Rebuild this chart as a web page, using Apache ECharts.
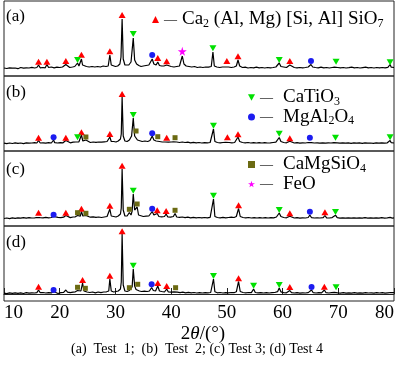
<!DOCTYPE html>
<html><head><meta charset="utf-8">
<script src="https://cdn.jsdelivr.net/npm/echarts@6/dist/echarts.min.js"></script>
<style>html,body{margin:0;padding:0;background:#fff}#c{width:400px;height:365px}</style>
</head><body><div id="c"></div><script>
const xTicks = [10, 20, 30, 40, 50, 60, 70, 80];
const panelLabels = ['(a)', '(b)', '(c)', '(d)'];
const phaseNames = ['Ca2 (Al, Mg) [Si, Al] SiO7', 'CaTiO3', 'MgAl2O4', 'CaMgSiO4', 'FeO'];
const xTitle = '2θ/(°)';
const caption = '(a)  Test  1;  (b)  Test  2; (c) Test 3; (d) Test 4';

// XRD profiles [2θ, intensity]
const profileA = [[10,1],[10.5,0.5],[11,1.2],[11.5,0.8],[12,1],[12.5,0.3],[13,1.5],[13.5,0.8],[14,1.2],[14.5,1],[15,1.6],[15.5,1],[15.9,1.5],[16.2,4],[16.5,1.2],[17,1.5],[17.4,1.2],[17.7,4.5],[18,1.5],[18.5,2],[19,1.2],[19.5,1.8],[20,1.5],[20.5,2],[20.8,2.5],[21.1,4.5],[21.4,2.5],[21.8,1.5],[22.3,2],[22.7,2.5],[23.0,3],[23.2,6],[23.45,3],[23.7,3.5],[23.9,10],[24.1,4],[24.4,3],[24.8,2.5],[25.3,2],[25.8,2.5],[26.3,2],[26.8,2.5],[27.3,2],[27.8,3],[28.3,2.5],[28.7,3],[29.0,14],[29.25,4],[29.6,3],[30.0,2.5],[30.4,3],[30.8,5],[31.0,12],[31.2,50],[31.4,10],[31.7,4],[32.0,3],[32.4,4],[32.8,7],[33.2,31],[33.45,9],[33.8,5],[34.2,3.5],[34.6,2.5],[35.0,3],[35.5,3.5],[36.0,4],[36.3,6],[36.6,10],[36.9,5],[37.3,4],[37.6,7],[37.9,3.5],[38.3,3],[38.7,3],[39.0,2.5],[39.2,4],[39.5,2],[40.0,2.5],[40.5,2],[41.0,2.5],[41.5,3],[41.8,5],[42.0,13],[42.3,5],[42.7,3],[43.2,2.5],[43.7,2],[44.2,2.5],[44.7,1.5],[45.2,2],[45.7,1.5],[46.2,2],[46.7,1.8],[47.2,2.5],[47.5,17],[47.75,3],[48.2,2],[48.7,1.5],[49.2,2],[49.7,2],[50.0,4],[50.3,2],[50.8,1.5],[51.3,2],[51.7,3],[52.0,9],[52.3,3],[52.8,1.5],[53.3,1.8],[53.8,1],[54.3,1.5],[54.8,1.2],[55.3,1.8],[55.8,1.2],[56.3,1.5],[56.8,1],[57.3,1.5],[57.8,1.2],[58.3,1.5],[58.8,2],[59.1,2.5],[59.4,6],[59.7,2.5],[60.2,2],[60.7,1.5],[61.0,2],[61.3,4],[61.6,2],[62.1,1.5],[62.6,1.2],[63.1,1.5],[63.6,1.2],[64.1,1.5],[64.6,2],[64.85,2.5],[65.1,4.5],[65.4,2],[65.9,1.5],[66.4,1.2],[66.9,1.8],[67.4,1.2],[67.9,1.5],[68.4,1],[68.9,1.5],[69.3,1.8],[69.6,3.5],[69.9,1.5],[70.4,1.2],[70.9,1.5],[71.4,1],[71.9,1.3],[72.4,1.8],[72.9,1.2],[73.4,1.5],[73.9,1],[74.4,1.4],[74.9,1.8],[75.4,1.2],[75.9,1.5],[76.4,1],[76.9,1.5],[77.4,1.2],[77.9,1.5],[78.4,1.2],[78.9,1.6],[79.1,2],[79.3,4.5],[79.5,1.8],[80,1.5]];
const profileB = [[10,0.8],[10.5,0.3],[11,1],[11.5,0.5],[12,1.2],[12.5,0.6],[13,1],[13.5,0.4],[14,1.2],[14.5,0.8],[15,1],[15.5,1.3],[15.9,1],[16.2,3.5],[16.5,1],[17,1.2],[17.5,0.8],[18,1.3],[18.5,1],[18.7,1.5],[18.9,4],[19.1,1.3],[19.6,1],[20.1,1.4],[20.6,1.2],[20.9,1.6],[21.1,3.5],[21.4,1.5],[21.9,1.2],[22.4,1.8],[22.9,2],[23.2,4],[23.45,2.2],[23.7,2.5],[23.9,9],[24.15,3],[24.45,2.5],[24.7,4],[25,2],[25.5,1.5],[26,2],[26.5,1.6],[27,2],[27.5,1.8],[28,2.2],[28.5,2.5],[28.8,3],[29.0,7],[29.25,2.5],[29.7,2.5],[30.1,2],[30.5,3],[30.9,5],[31.05,10],[31.2,47],[31.4,8],[31.7,3],[32.1,2.5],[32.5,4],[32.9,8],[33.2,26],[33.45,8],[33.7,10],[33.95,4],[34.3,3],[34.8,2.5],[35.3,3],[35.8,2.5],[36.2,3.5],[36.6,8],[36.9,4],[37.3,3],[37.6,4.5],[37.9,2.5],[38.4,2],[38.9,2],[39.2,3.5],[39.5,1.8],[40.0,2],[40.4,2.2],[40.7,3.5],[41.0,2],[41.5,1.5],[42,2],[42.5,1.5],[43,1.8],[43.5,1.2],[44,1.6],[44.5,1.2],[45,1.5],[45.5,1],[46,1.4],[46.5,1.2],[47,1.5],[47.3,2],[47.6,15],[47.85,2.5],[48.3,1.5],[48.8,1.2],[49.3,1.5],[49.8,1.6],[50.1,3.5],[50.4,1.5],[50.9,1.2],[51.4,1.5],[51.7,2.5],[52.0,7],[52.3,2.5],[52.8,1.5],[53.3,1.2],[53.8,1.5],[54.3,1],[54.8,1.4],[55.3,1],[55.8,1.3],[56.3,1],[56.8,1.3],[57.3,1],[57.8,1.2],[58.3,1.5],[58.8,1.8],[59.1,2.5],[59.4,6.5],[59.7,2.5],[60.2,1.5],[60.7,1.2],[61.0,1.3],[61.3,2.8],[61.6,1.2],[62.1,1],[62.6,1.3],[63.1,0.8],[63.6,1.2],[64.1,1],[64.6,1.5],[64.9,3.2],[65.2,1.3],[65.7,1],[66.2,1.2],[66.7,0.8],[67.2,1.2],[67.7,0.8],[68.2,1.2],[68.7,1],[69.2,1.3],[69.5,3],[69.8,1.2],[70.3,0.8],[70.8,1.2],[71.3,0.8],[71.8,1.1],[72.3,0.7],[72.8,1.2],[73.3,0.8],[73.8,1.1],[74.3,0.7],[74.8,1.2],[75.3,0.8],[75.8,1],[76.3,0.7],[76.8,1.1],[77.3,0.8],[77.8,1.2],[78.3,0.8],[78.8,1.2],[79.1,1.5],[79.3,3.5],[79.5,1.3],[80,1]];
const profileC = [[10,0.5],[10.5,1],[11,0.4],[11.5,1.1],[12,0.6],[12.5,1.2],[13,0.8],[13.5,1.3],[14,0.9],[14.5,1.4],[15,1],[15.5,1.2],[15.9,1.5],[16.2,3.5],[16.5,1.3],[17,1.2],[17.5,1.6],[18,1.2],[18.5,1.5],[18.9,2.5],[19.2,1.3],[19.7,1.6],[20.2,1.3],[20.7,1.8],[21.1,3.5],[21.4,1.6],[21.9,1.4],[22.4,2],[22.8,2.2],[23.2,3.5],[23.5,2.5],[23.7,2.8],[23.9,7.5],[24.15,3],[24.45,2.5],[24.7,3.5],[25,2],[25.5,1.8],[26,2.2],[26.5,1.6],[27,2],[27.5,1.5],[28,2],[28.5,2.5],[28.8,3],[29.0,10],[29.25,3],[29.7,2.5],[30.1,2],[30.5,3],[30.9,5],[31.05,11],[31.2,50],[31.4,9],[31.7,3],[32.1,3],[32.5,6.5],[32.8,4],[33.0,8],[33.2,25],[33.45,9],[33.7,8],[33.9,12],[34.15,4],[34.5,3],[35,2.5],[35.5,2.8],[36,3],[36.3,4],[36.6,7.5],[36.9,4],[37.2,3],[37.5,5.5],[37.8,2.5],[38.3,2.2],[38.8,2.5],[39.1,5],[39.4,2],[39.9,1.8],[40.4,2.5],[40.7,5.5],[41,2],[41.5,1.6],[42,2],[42.5,1.4],[43,1.8],[43.5,1.2],[44,1.6],[44.5,1.2],[45,1.5],[45.5,1.1],[46,1.5],[46.5,1.2],[47,1.6],[47.3,2.2],[47.6,20],[47.85,2.5],[48.3,1.5],[48.8,1.2],[49.3,1.6],[49.8,1.2],[50.3,1.5],[50.8,1.8],[51.3,1.5],[51.7,2.5],[52.1,10.5],[52.4,2.5],[52.9,1.5],[53.4,1.2],[53.9,1.5],[54.4,1],[54.9,1.4],[55.4,1],[55.9,1.3],[56.4,1],[56.9,1.3],[57.4,1],[57.9,1.4],[58.4,1.2],[58.9,2],[59.1,2.5],[59.4,6],[59.7,2.5],[60.2,1.5],[60.7,1.2],[61.0,1.4],[61.3,2.8],[61.6,1.2],[62.1,1],[62.6,1.3],[63.1,0.8],[63.6,1.2],[64.1,1],[64.6,1.5],[64.9,4],[65.2,1.3],[65.7,1],[66.2,1.2],[66.7,1],[67.3,1.4],[67.6,3.5],[67.9,1.2],[68.4,1],[68.9,1.4],[69.2,1.6],[69.5,3.8],[69.8,1.3],[70.3,0.9],[70.8,1.2],[71.3,0.8],[71.8,1.2],[72.3,0.8],[72.8,1.2],[73.3,0.9],[73.8,1.2],[74.3,0.8],[74.8,1.3],[75.3,0.9],[75.8,1.1],[76.3,0.8],[76.8,1.2],[77.3,0.9],[77.8,1.3],[78.3,0.9],[78.8,1.2],[79.3,1.6],[79.7,0.9],[80,1.2]];
const profileD = [[10,0.8],[10.5,0.4],[11,1.1],[11.5,0.6],[12,1.2],[12.5,0.7],[13,1.1],[13.5,0.5],[14,1.3],[14.5,0.8],[15,1.2],[15.5,1],[15.9,1.4],[16.2,4],[16.5,1.3],[17,1.5],[17.5,1],[18,1.4],[18.5,1.1],[18.9,2.5],[19.2,1.2],[19.7,0.5],[20.2,1.3],[20.7,1.6],[21.1,4],[21.4,1.8],[21.9,1.3],[22.4,1.8],[22.8,2.2],[23.2,3.5],[23.5,2.5],[23.8,3],[24.1,11],[24.35,3],[24.6,2.8],[24.9,2],[25.4,1.5],[25.9,2],[26.4,1.2],[26.9,2],[27.4,1.4],[27.9,2],[28.4,2.2],[28.8,3],[29.0,15],[29.25,3],[29.7,2],[30.1,2.5],[30.5,3],[30.9,5],[31.05,12],[31.2,60],[31.4,9],[31.7,3],[32.1,2.5],[32.5,3.5],[32.8,3],[33.0,7],[33.2,25],[33.45,8],[33.7,4.5],[34.0,6.5],[34.3,3],[34.7,2.5],[35.2,2.8],[35.7,2.5],[36.1,3],[36.5,6.5],[36.8,3.5],[37.2,3],[37.6,8],[37.9,3],[38.3,2.5],[38.8,2],[39.2,5],[39.5,2],[40.0,1.8],[40.5,2.2],[40.8,3.5],[41.1,1.8],[41.6,1.4],[42.1,1.8],[42.6,1.2],[43.1,1.6],[43.6,1.1],[44.1,1.5],[44.6,1],[45.1,1.4],[45.6,1],[46.1,1.4],[46.6,1.1],[47.1,1.5],[47.35,2],[47.6,15],[47.85,2.2],[48.3,1.2],[48.8,1.5],[49.3,1],[49.8,1.4],[50.3,1.2],[50.8,1.5],[51.3,1.3],[51.7,2.2],[52.1,12.5],[52.4,2.5],[52.9,1.5],[53.4,1.2],[53.9,1.5],[54.4,1.4],[54.8,5],[55.1,1.5],[55.6,1.2],[56.1,1.4],[56.6,1],[57.1,1.4],[57.6,1],[58.1,1.3],[58.6,1.5],[59.1,2.3],[59.4,6],[59.7,2.2],[60.2,1.4],[60.7,1.2],[61.0,1.5],[61.3,3.5],[61.6,1.3],[62.1,1],[62.6,1.3],[63.1,0.9],[63.6,1.2],[64.1,1],[64.6,1.4],[64.9,2],[65.2,4],[65.5,1.3],[66,1],[66.5,1.3],[67.0,1.2],[67.5,4],[67.8,1.3],[68.3,1],[68.8,1.3],[69.3,1.6],[69.6,3.5],[69.9,1.2],[70.4,0.9],[70.9,1.3],[71.4,0.9],[71.9,1.2],[72.4,0.8],[72.9,1.3],[73.4,0.9],[73.9,1.2],[74.4,0.8],[74.9,1.4],[75.4,1],[75.9,1.2],[76.4,0.9],[76.9,1.3],[77.4,1],[77.9,1.3],[78.4,0.9],[78.9,1.2],[79.4,1.5],[79.8,1.4],[80,1.3]];

// phase markers [2θ, marker height]
const redA = [[16.2,7.3],[17.7,7.3],[21.1,8],[23.9,14.3],[29.0,17.7],[31.2,54],[37.6,11],[39.2,7.7],[50.0,8],[52.0,12.7],[61.3,8]];
const greenA = [[23.2,9],[33.2,35],[47.5,20.7],[59.4,9],[69.6,7.3],[79.3,6.7]];
const blueA = [[36.6,14],[65.1,8]];
const oliveA = [];
const starA = [[42.0,17.7]];
const redB = [[16.2,6.3],[21.1,6.3],[23.9,11.7],[29.0,10],[31.2,50],[39.2,6.3],[50.1,6.7],[52.0,9.7],[61.3,5.7]];
const greenB = [[23.2,6.7],[33.2,29],[47.6,18.3],[59.4,10.3],[69.5,6.3],[79.3,6.7]];
const blueB = [[18.9,6.7],[36.6,10.7],[64.9,6.3]];
const oliveB = [[24.7,7],[33.7,13],[37.6,7.3],[40.7,6.3]];
const starB = [];
const redC = [[16.2,6.3],[21.1,6.3],[23.9,10.3],[29.0,13.3],[31.2,53.3],[37.5,8.7],[39.1,8],[52.1,13.7],[61.3,5.7],[67.6,6.7]];
const greenC = [[33.2,28.3],[47.6,23.3],[59.4,9],[69.5,7]];
const blueC = [[18.9,4.3],[36.6,10.3],[64.9,7.3]];
const oliveC = [[23.2,6.3],[24.7,5.7],[32.5,9.7],[33.9,15],[40.7,8.7]];
const starC = [];
const redD = [[16.2,7.3],[24.1,14],[29.0,18.3],[31.2,62.7],[37.6,11],[39.2,8],[52.1,15.7],[61.3,7],[67.5,7.3]];
const greenD = [[33.2,28.3],[47.6,18],[54.8,8.3],[59.4,9],[69.6,6.7]];
const blueD = [[18.9,4],[36.5,9.7],[65.2,7]];
const oliveD = [[23.2,6.7],[24.6,5.7],[32.5,6.3],[34.0,9.7],[40.8,6.3]];
const starD = [];

const profiles = [profileA, profileB, profileC, profileD];
const markers = [
  [redA, greenA, blueA, oliveA, starA],
  [redB, greenB, blueB, oliveB, starB],
  [redC, greenC, blueC, oliveC, starC],
  [redD, greenD, blueD, oliveD, starD]
];

const SERIF = 'Liberation Serif';
const phaseStyle = [
  { symbol: 'triangle', size: [7, 6], color: '#ff0000' },
  { symbol: 'path://M0,0 L10,0 L5,9 Z', size: [7, 6], color: '#00e000' },
  { symbol: 'circle', size: 6, color: '#1c1cf0' },
  { symbol: 'rect', size: 5, color: '#6b6a12' },
  { symbol: 'path://M50,0 L61,35 L98,35 L68,57 L79,91 L50,70 L21,91 L32,57 L2,35 L39,35 Z', size: 9, color: '#ff00ff' }
];

const tops = [1, 76, 151, 226];
const H = 75;
const grids = [], xAxes = [], yAxes = [], series = [];
tops.forEach((t, i) => {
  grids.push({ left: 4, right: 6, top: t, height: H, show: true, borderColor: '#222', borderWidth: 1, backgroundColor: 'transparent' });
  const last = i === tops.length - 1;
  xAxes.push({
    gridIndex: i, type: 'value', min: xTicks[0], max: xTicks[xTicks.length - 1], interval: 10,
    show: last,
    axisLine: { show: true, lineStyle: { color: '#222', width: 1 } },
    axisTick: { show: true, inside: true, length: 6, lineStyle: { color: '#222' } },
    splitLine: { show: false },
    axisLabel: { show: true, margin: 3, fontFamily: SERIF, fontSize: 19, color: '#000', alignMinLabel: 'left', alignMaxLabel: 'right' }
  });
  yAxes.push({ gridIndex: i, type: 'value', min: -7, max: 68, show: false });
  series.push({
    type: 'line', xAxisIndex: i, yAxisIndex: i, data: profiles[i], symbol: 'none',
    lineStyle: { color: '#000', width: 1.2 }, silent: true, z: 2
  });
  markers[i].forEach((arr, k) => {
    series.push({
      type: 'scatter', name: phaseNames[k], xAxisIndex: i, yAxisIndex: i, data: arr,
      symbol: phaseStyle[k].symbol, symbolSize: phaseStyle[k].size,
      itemStyle: { color: phaseStyle[k].color, opacity: 1 }, z: 3
    });
  });
});

function fmt(gap) {
  return n => '{d|—}{g' + gap + '|}{t|' + n.replace(/(\d+)/g, '}{s|$1}{t|') + '}';
}
const richText = {
  d: { fontFamily: SERIF, fontSize: 13, color: '#000', lineHeight: 20 },
  g1: { width: 5 }, g2: { width: 10 },
  t: { fontFamily: SERIF, fontSize: 19, color: '#000', lineHeight: 20 },
  s: { fontFamily: SERIF, fontSize: 12, color: '#000', lineHeight: 6, verticalAlign: 'bottom' }
};
const legendBase = {
  orient: 'vertical', itemWidth: 7, itemHeight: 7, itemGap: 0, padding: 0,
  inactiveColor: '#000', selectedMode: false,
  textStyle: { rich: richText }
};
const legends = [
  Object.assign({}, legendBase, { data: [phaseNames[0]], left: 152, top: 10, formatter: fmt(1) }),
  Object.assign({}, legendBase, { data: [phaseNames[1], phaseNames[2]], left: 248, top: 88, formatter: fmt(2) }),
  Object.assign({}, legendBase, { data: [phaseNames[3], phaseNames[4]], left: 248, top: 155, formatter: fmt(2) })
];

const labelY = [16.5, 93, 169.5, 242.5];
const graphics = panelLabels.map((s, i) => ({
  type: 'text', x: 6, y: labelY[i],
  style: { text: s, font: '17px "Liberation Serif"', fill: '#000', align: 'left', verticalAlign: 'middle' }
}));
graphics.push({
  type: 'text', x: 203, y: 334,
  style: {
    text: '{n|2}{i|θ}{n|/(°)}', align: 'center', verticalAlign: 'middle',
    rich: { n: { fontFamily: SERIF, fontSize: 19, fill: '#000' }, i: { fontFamily: SERIF, fontSize: 19, fontStyle: 'italic', fill: '#000' } }
  }
});
graphics.push({
  type: 'text', x: 197, y: 349,
  style: { text: caption, font: '14px "Liberation Serif"', fill: '#000', align: 'center', verticalAlign: 'middle' }
});

const chart = echarts.init(document.getElementById('c'), null, { renderer: 'canvas' });
chart.setOption({
  animation: false,
  backgroundColor: '#fff',
  grid: grids, xAxis: xAxes, yAxis: yAxes, series: series,
  legend: legends,
  graphic: graphics
});
</script></body></html>
